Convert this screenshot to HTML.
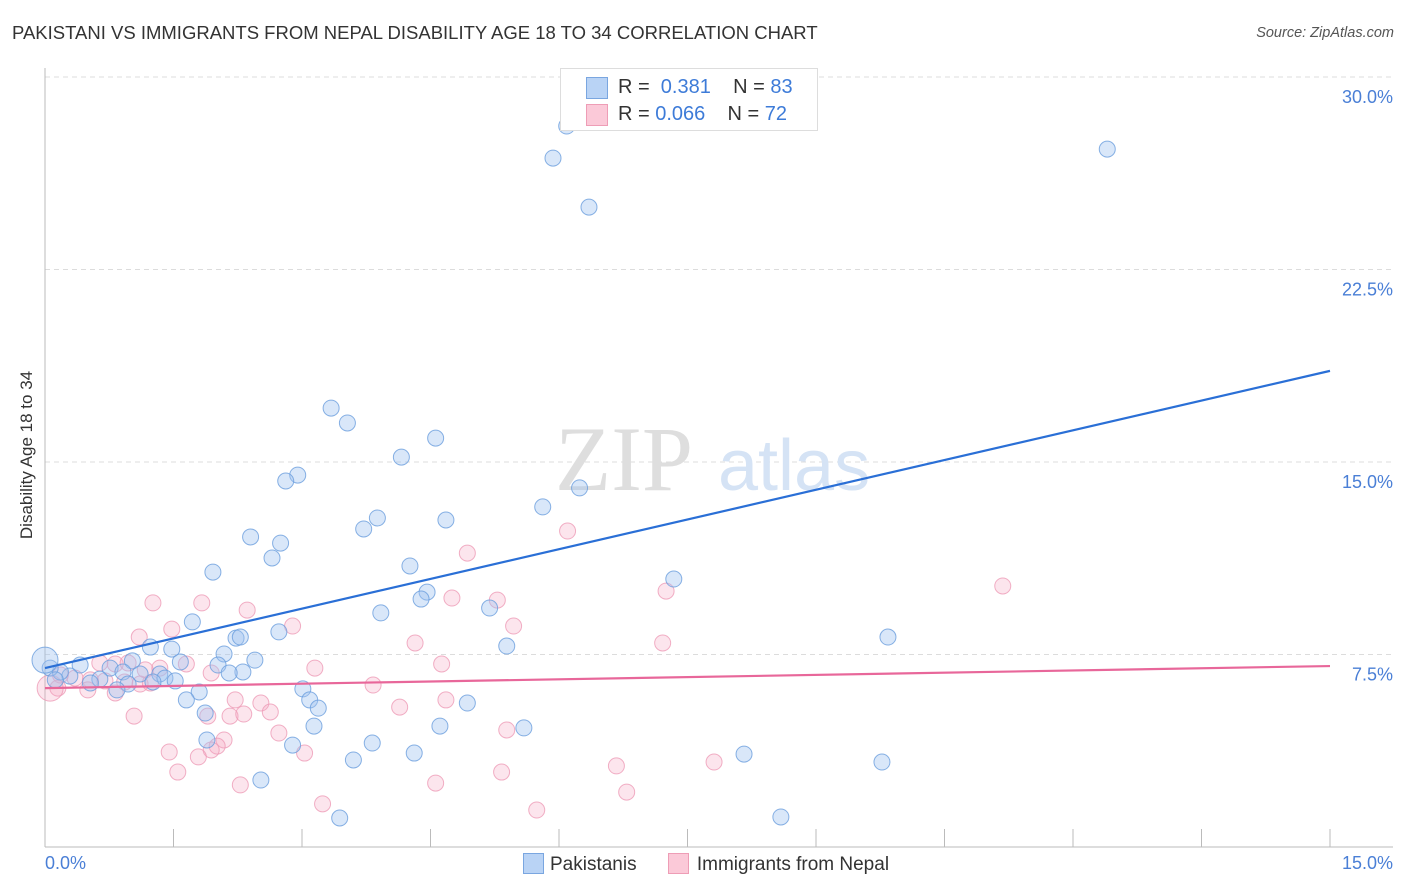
<!DOCTYPE html>
<html><head><meta charset="utf-8"><style>
body{margin:0;background:#fff;font-family:"Liberation Sans",sans-serif;}
#wrap{position:relative;width:1406px;height:892px;overflow:hidden;}
.t{position:absolute;white-space:nowrap;}
</style></head><body>
<div id="wrap">
<div class="t" style="left:12px;top:22px;font-size:18.5px;color:#333;">PAKISTANI VS IMMIGRANTS FROM NEPAL DISABILITY AGE 18 TO 34 CORRELATION CHART</div>
<div class="t" style="right:12px;top:25px;font-size:14.5px;color:#555;font-style:italic;">Source: ZipAtlas.com</div>
<div class="t" style="left:27px;top:455px;font-size:17px;color:#333;transform:translate(-50%,-50%) rotate(-90deg);">Disability Age 18 to 34</div>
<svg id="plot" width="1406" height="892" style="position:absolute;left:0;top:0"></svg>
<div style="position:absolute;left:560px;top:68px;width:256px;height:61px;border:1px solid #ddd;background:#fff;font-size:20px;">
 <div style="position:absolute;left:25px;top:8px;width:20px;height:20px;background:#b9d3f5;border:1px solid #7aa6e0;"></div>
 <div class="t" style="left:57px;top:7px;color:#333;">R = &nbsp;<span style="color:#3d7bd8">0.381</span>&nbsp;&nbsp;&nbsp; N = <span style="color:#3d7bd8">83</span></div>
 <div style="position:absolute;left:25px;top:35px;width:20px;height:20px;background:#fbc9d8;border:1px solid #ee9db6;"></div>
 <div class="t" style="left:57px;top:34px;color:#333;">R = <span style="color:#3d7bd8">0.066</span>&nbsp;&nbsp;&nbsp; N = <span style="color:#3d7bd8">72</span></div>
</div>
<div class="t" style="left:45px;top:853px;font-size:18px;color:#4a7fd6;">0.0%</div>
<div class="t" style="right:13px;top:853px;font-size:18px;color:#4a7fd6;">15.0%</div>
<div style="position:absolute;left:523px;top:853px;font-size:19px;color:#333;">
 <span style="display:inline-block;width:19px;height:19px;background:#b9d3f5;border:1px solid #7aa6e0;vertical-align:-4px;margin-right:6px;"></span>Pakistanis
 <span style="display:inline-block;width:19px;height:19px;background:#fbc9d8;border:1px solid #ee9db6;vertical-align:-4px;margin-left:26px;margin-right:8px;"></span>Immigrants from Nepal
</div>
</div>
<script>
const yTicks=[7.5,15,22.5,30];
const blueX=[6.09,5.93,6.35,12.40,3.34,3.53,4.56,4.16,2.95,2.81,6.24,5.81,3.88,4.68,3.72,2.40,2.75,2.65,4.26,1.96,7.34,4.46,4.39,5.19,3.92,1.72,9.84,2.73,2.23,2.28,5.39,1.23,1.48,2.09,2.45,1.02,1.58,2.02,2.31,2.15,0.41,0.76,0.91,1.11,1.34,1.40,1.52,0.64,0.29,0.18,0.06,0.0,0.12,0.53,0.97,1.26,0.84,1.80,1.65,3.01,3.09,4.93,3.19,1.87,3.14,4.61,5.59,1.89,2.89,3.82,4.31,8.16,9.77,3.60,2.52,3.44,8.59];
const blueY=[28.09,26.84,24.93,27.19,17.10,16.52,15.93,15.19,14.49,14.26,13.99,13.25,12.82,12.74,12.39,12.08,11.84,11.26,10.95,10.71,10.44,9.93,9.66,9.31,9.12,8.77,8.18,8.38,8.14,8.18,7.83,7.79,7.71,7.52,7.28,7.25,7.21,7.09,6.82,6.78,7.09,6.97,6.82,6.74,6.74,6.58,6.47,6.54,6.66,6.82,6.97,7.28,6.51,6.39,6.35,6.43,6.12,6.04,5.73,6.16,5.73,5.61,5.41,5.22,4.71,4.71,4.64,4.17,3.97,4.05,3.66,3.62,3.31,3.39,2.61,1.13,1.17];
const pinkX=[6.10,4.93,11.18,1.26,1.83,7.25,4.75,5.28,2.36,2.89,5.47,1.10,1.48,4.32,7.21,3.15,4.63,1.65,0.64,0.82,0.97,1.34,1.94,1.17,0.18,0.35,0.53,0.70,0.93,1.11,0.15,0.50,0.82,1.23,3.83,2.22,2.52,4.68,2.63,4.14,1.04,1.90,2.16,2.32,2.73,5.39,2.09,1.45,2.01,1.94,1.79,3.03,6.67,7.81,1.55,5.33,4.56,2.28,6.79,3.24,5.74,0.06];
const pinkY=[12.31,11.45,10.17,9.51,9.51,9.97,9.70,9.62,9.23,8.61,8.61,8.18,8.49,7.95,7.95,6.97,7.13,7.13,7.17,7.13,7.17,6.97,6.78,6.90,6.70,6.58,6.51,6.47,6.43,6.35,6.19,6.12,6.00,6.39,6.31,5.73,5.61,5.73,5.26,5.45,5.10,5.10,5.10,5.18,4.44,4.56,4.17,3.70,3.93,3.78,3.51,3.66,3.16,3.31,2.92,2.92,2.49,2.42,2.14,1.68,1.44,6.19];
const blueLine=[6.97,18.55];
const pinkLine=[6.19,7.05];
const X=v=>45+v/15*1285;
const Y=v=>847-v/7.5*192.5;
const svg=document.getElementById('plot');
const NS='http://www.w3.org/2000/svg';
function mk(tag,attrs){const e=document.createElementNS(NS,tag);for(const k in attrs)e.setAttribute(k,attrs[k]);svg.appendChild(e);return e;}
yTicks.forEach(t=>{
 const g=mk('line',{x1:45,x2:1393,y1:Y(t),y2:Y(t),stroke:'#dcdcdc','stroke-dasharray':'5,4'});
 
 
 const tx=mk('text',{x:1393,y:Y(t)+26,'text-anchor':'end','font-size':18,fill:'#4a7fd6','font-family':'Liberation Sans'});
 tx.textContent=t.toFixed(1)+'%';
 
 
});
const wm=mk('text',{x:555,y:490,'font-size':92,fill:'#dedede','font-family':'Liberation Serif'});
wm.textContent='ZIP';


const wm2=mk('text',{x:718,y:490,'font-size':72,fill:'#d5e3f5','font-family':'Liberation Sans'});
wm2.textContent='atlas';


const ax=mk('line',{x1:45,x2:45,y1:68,y2:847,stroke:'#bbb'});


const bx=mk('line',{x1:45,x2:1393,y1:847,y2:847,stroke:'#bbb'});


for(let i=0;i<=10;i++){
 const tk=mk('line',{x1:X(i*1.5),x2:X(i*1.5),y1:829,y2:847,stroke:'#bbb'});
 
 
}
function dots(xs,ys,fill,stroke,name){
 xs.forEach((v,i)=>{
  const big=(v<=0.06&&i===xs.length-1&&name==='pink-point')||(v===0&&name==='blue-point');
  const c=mk('circle',{cx:X(v),cy:Y(ys[i]),r:big?13:8,fill:fill,stroke:stroke,'stroke-width':1,'stroke-opacity':0.8});
  
  
 });
}
dots(pinkX,pinkY,'rgba(246,170,195,0.3)','#ee9bb6','pink-point');
dots(blueX,blueY,'rgba(160,196,240,0.4)','#6a9edd','blue-point');
const bl=mk('line',{x1:X(0),y1:Y(blueLine[0]),x2:X(15),y2:Y(blueLine[1]),stroke:'#2a6fd6','stroke-width':2.2});


const pl=mk('line',{x1:X(0),y1:Y(pinkLine[0]),x2:X(15),y2:Y(pinkLine[1]),stroke:'#e8679a','stroke-width':2.2});


</script>
</body></html>
